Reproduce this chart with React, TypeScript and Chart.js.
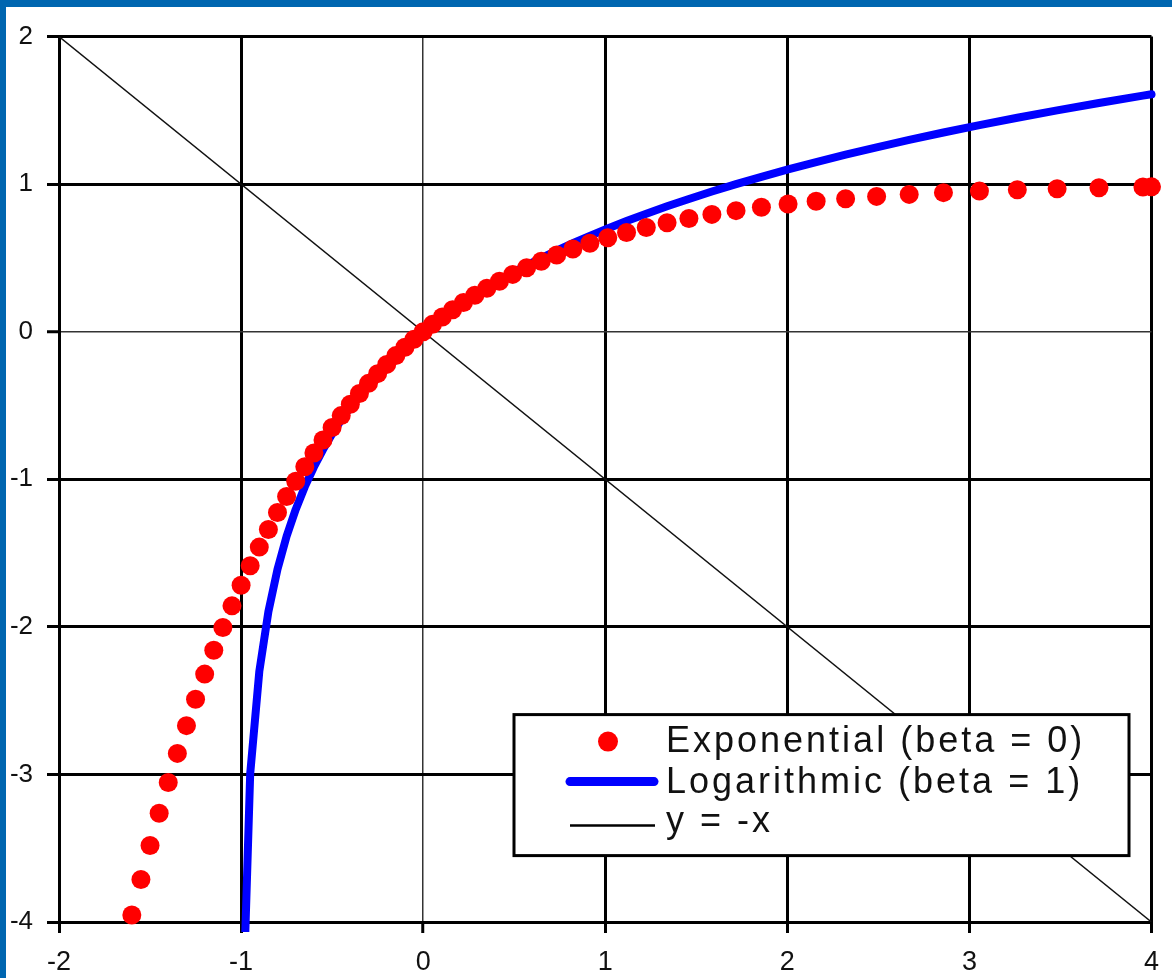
import React, { useEffect, useRef } from 'react';
import { Chart, registerables } from 'chart.js';

Chart.register(...registerables);

// ---- data ----
const seriesLabels = ['Exponential (beta = 0)', 'Logarithmic (beta = 1)', 'y = -x'];

const expX = [
  -1.6, -1.55, -1.5, -1.45, -1.4, -1.35, -1.3, -1.25, -1.2, -1.15, -1.1, -1.05, -1.0,
  -0.95, -0.9, -0.85, -0.8, -0.75, -0.7, -0.65, -0.6, -0.55, -0.5, -0.45, -0.4, -0.35,
  -0.3, -0.25, -0.2, -0.15, -0.1, -0.05, 0,
  0.0513, 0.1052, 0.1618, 0.2214, 0.284, 0.3499, 0.4191, 0.4918, 0.5683, 0.6487, 0.7333,
  0.8221, 0.9155, 1.0138, 1.117, 1.2255, 1.3396, 1.4596, 1.5857, 1.7183, 1.8577, 2.0042,
  2.1582, 2.3201, 2.4903, 2.6693, 2.8574, 3.0552, 3.2631, 3.4817, 3.7115, 3.953, 4.0,
];
const expY = [
  -3.953, -3.7115, -3.4817, -3.2631, -3.0552, -2.8574, -2.6693, -2.4903, -2.3201, -2.1582,
  -2.0042, -1.8577, -1.7183, -1.5857, -1.4596, -1.3396, -1.2255, -1.117, -1.0138, -0.9155,
  -0.8221, -0.7333, -0.6487, -0.5683, -0.4918, -0.4191, -0.3499, -0.284, -0.2214, -0.1618,
  -0.1052, -0.0513, 0,
  0.05, 0.0998, 0.1494, 0.1986, 0.2472, 0.2952, 0.3424, 0.3885, 0.4335, 0.4773, 0.5196,
  0.5605, 0.5997, 0.6372, 0.6728, 0.7064, 0.738, 0.7677, 0.7952, 0.8207, 0.844, 0.8652,
  0.8845, 0.9017, 0.9171, 0.9307, 0.9426, 0.9529, 0.9617, 0.9693, 0.9756, 0.9808, 0.9817,
];

const logX = [
  -0.99, -0.95, -0.9, -0.85, -0.8, -0.75, -0.7, -0.65, -0.6, -0.55, -0.5, -0.45, -0.4,
  -0.35, -0.3, -0.25, -0.2, -0.15, -0.1, -0.05, 0,
  0.0513, 0.1052, 0.1618, 0.2214, 0.284, 0.3499, 0.4191, 0.4918, 0.5683, 0.6487, 0.7333,
  0.8221, 0.9155, 1.0138, 1.117, 1.2255, 1.3396, 1.4596, 1.5857, 1.7183, 1.8577, 2.0042,
  2.1582, 2.3201, 2.4903, 2.6693, 2.8574, 3.0552, 3.2631, 3.4817, 3.7115, 3.953, 4.0,
];
const logY = [
  -4.6052, -2.9957, -2.3026, -1.8971, -1.6094, -1.3863, -1.204, -1.0498, -0.9163, -0.7985,
  -0.6931, -0.5978, -0.5108, -0.4308, -0.3567, -0.2877, -0.2231, -0.1625, -0.1054, -0.0513, 0,
  0.05, 0.1, 0.15, 0.2, 0.25, 0.3, 0.35, 0.4, 0.45, 0.5, 0.55, 0.6, 0.65, 0.7, 0.75, 0.8,
  0.85, 0.9, 0.95, 1.0, 1.05, 1.1, 1.15, 1.2, 1.25, 1.3, 1.35, 1.4, 1.45, 1.5, 1.55, 1.6, 1.6094,
];

const diagX = [-2, 4];
const diagY = [2, -4];

const xTickValues = [-2, -1, 0, 1, 2, 3, 4];
const xTickLabels = ['-2', '-1', '0', '1', '2', '3', '4'];
const yTickValues = [-4, -3, -2, -1, 0, 1, 2];
const yTickLabels = ['-4', '-3', '-2', '-1', '0', '1', '2'];

// ---- helpers ----
const zip = (xs: number[], ys: number[]) => xs.map((x, i) => ({ x, y: ys[i] }));

const FONT = '"Liberation Sans", Arial, Helvetica, sans-serif';

const gridColor = (c: any) => (c.tick && c.tick.value === 0 ? '#333' : '#000');
const gridWidth = (c: any) => (c.tick && c.tick.value === 0 ? 1.5 : 3);

const boxLegend = {
  id: 'boxLegend',
  afterDatasetsDraw(chart: any) {
    const ctx = chart.ctx as CanvasRenderingContext2D;
    const a = chart.chartArea;
    const ds = chart.data.datasets;
    const bx = a.left + 455;
    const by = a.top + 678;
    const bw = 615;
    const bh = 141;
    ctx.save();
    ctx.fillStyle = '#fff';
    ctx.fillRect(bx, by, bw, bh);
    ctx.strokeStyle = '#000';
    ctx.lineWidth = 3;
    ctx.strokeRect(bx, by, bw, bh);

    // symbol 1: dot
    ctx.fillStyle = ds[0].backgroundColor;
    ctx.beginPath();
    ctx.arc(bx + 94, by + 27, 10, 0, Math.PI * 2);
    ctx.fill();

    // symbol 2: thick line
    ctx.strokeStyle = ds[1].borderColor;
    ctx.lineWidth = 9;
    ctx.lineCap = 'round';
    ctx.beginPath();
    ctx.moveTo(bx + 56, by + 67);
    ctx.lineTo(bx + 140, by + 67);
    ctx.stroke();

    // symbol 3: thin line
    ctx.strokeStyle = '#000';
    ctx.lineWidth = 2.5;
    ctx.lineCap = 'butt';
    ctx.beginPath();
    ctx.moveTo(bx + 56, by + 111);
    ctx.lineTo(bx + 141, by + 111);
    ctx.stroke();

    ctx.fillStyle = '#111';
    ctx.font = `36px ${FONT}`;
    (ctx as any).letterSpacing = '3px';
    ctx.textAlign = 'left';
    ctx.textBaseline = 'alphabetic';
    const tx = bx + 152;
    ctx.fillText(ds[0].label, tx, by + 37);
    ctx.fillText(ds[1].label, tx, by + 78);
    ctx.fillText(ds[2].label, tx, by + 117);
    ctx.restore();
  },
};

export default function App() {
  const ref = useRef<HTMLCanvasElement>(null);

  useEffect(() => {
    if (!ref.current) return;
    const chart = new Chart(ref.current, {
      type: 'scatter',
      data: {
        datasets: [
          {
            label: seriesLabels[0],
            data: zip(expX, expY),
            backgroundColor: '#FF0000',
            borderColor: '#FF0000',
            borderWidth: 0,
            pointRadius: 9.5,
            pointHoverRadius: 9.5,
            showLine: false,
            clip: false,
          } as any,
          {
            label: seriesLabels[1],
            data: zip(logX, logY),
            borderColor: '#0000FF',
            backgroundColor: '#0000FF',
            borderWidth: 8,
            borderCapStyle: 'round',
            borderJoinStyle: 'round',
            pointRadius: 0,
            pointHoverRadius: 0,
            showLine: true,
            clip: { left: 6, right: 8, top: 6, bottom: 10 },
          } as any,
          {
            label: seriesLabels[2],
            data: zip(diagX, diagY),
            borderColor: '#111',
            backgroundColor: '#111',
            borderWidth: 1.5,
            pointRadius: 0,
            pointHoverRadius: 0,
            showLine: true,
          } as any,
        ],
      },
      options: {
        responsive: true,
        maintainAspectRatio: false,
        animation: false,
        devicePixelRatio: 1,
        events: [],
        layout: { padding: { top: 24, right: 17, left: 0, bottom: 0 } },
        plugins: {
          legend: { display: false },
          tooltip: { enabled: false },
        },
        scales: {
          x: {
            type: 'linear',
            min: -2,
            max: 4,
            afterBuildTicks: (s: any) => {
              s.ticks = xTickValues.map((v) => ({ value: v }));
            },
            afterFit: (s: any) => {
              s.height = 56;
            },
            grid: {
              color: gridColor,
              lineWidth: gridWidth,
              drawTicks: true,
              tickLength: 11,
              tickWidth: 3,
              tickColor: '#000',
            },
            border: { display: true, color: '#000', width: 3 },
            ticks: {
              padding: 13,
              color: '#111',
              font: { family: FONT, size: 27 },
              maxRotation: 0,
              callback: (_v: any, i: number) => xTickLabels[i],
            },
          },
          y: {
            type: 'linear',
            min: -4,
            max: 2,
            afterBuildTicks: (s: any) => {
              s.ticks = yTickValues.map((v) => ({ value: v }));
            },
            afterFit: (s: any) => {
              s.width = 53;
            },
            grid: {
              color: gridColor,
              lineWidth: gridWidth,
              drawTicks: true,
              tickLength: 12,
              tickWidth: 3,
              tickColor: '#000',
            },
            border: { display: true, color: '#000', width: 3 },
            ticks: {
              padding: 14,
              color: '#111',
              font: { family: FONT, size: 26 },
              callback: (_v: any, i: number) => yTickLabels[i],
            },
          },
        },
      } as any,
      plugins: [boxLegend],
    });
    return () => chart.destroy();
  }, []);

  return (
    <div
      style={{
        position: 'absolute',
        left: 0,
        top: 0,
        width: 1172,
        height: 978,
        background: '#0066B0',
        overflow: 'hidden',
      }}
    >
      <div
        style={{
          position: 'absolute',
          left: 6,
          top: 7,
          width: 1166,
          height: 971,
          background: '#fff',
        }}
      >
        <canvas ref={ref} />
      </div>
    </div>
  );
}
